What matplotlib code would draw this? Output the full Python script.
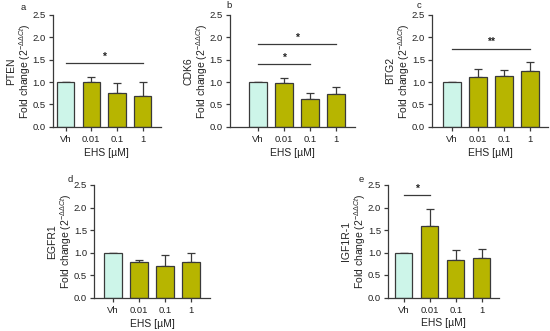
import matplotlib
matplotlib.use("Agg")
import matplotlib.pyplot as plt

plt.rcParams['font.family'] = ['Liberation Sans', 'DejaVu Sans']
plt.rcParams['mathtext.fontset'] = 'custom'
plt.rcParams['mathtext.rm'] = 'Liberation Sans'
plt.rcParams['mathtext.it'] = 'Liberation Sans:italic'

categories = ["Vh", "0.01", "0.1", "1"]
genes = ["PTEN", "CDK6", "BTG2", "EGFR1", "IGF1R-1"]
letters = ["a", "b", "c", "d", "e"]

pten_mean = [1.0, 1.01, 0.75, 0.68]
pten_sd = [0.0, 0.10, 0.23, 0.31]
cdk6_mean = [1.0, 0.97, 0.62, 0.73]
cdk6_sd = [0.0, 0.13, 0.14, 0.15]
btg2_mean = [1.0, 1.12, 1.14, 1.25]
btg2_sd = [0.0, 0.18, 0.12, 0.19]
egfr1_mean = [1.0, 0.80, 0.70, 0.79]
egfr1_sd = [0.0, 0.04, 0.25, 0.20]
igf1r_mean = [1.0, 1.60, 0.83, 0.88]
igf1r_sd = [0.0, 0.37, 0.23, 0.20]

# significance brackets: (from index, to index, height, label)
pten_sig = [(0, 3, 1.42, "*")]
cdk6_sig = [(0, 2, 1.40, "*"), (0, 3, 1.85, "*")]
btg2_sig = [(0, 3, 1.75, "**")]
egfr1_sig = []
igf1r_sig = [(0, 1, 2.27, "*")]

means = [pten_mean, cdk6_mean, btg2_mean, egfr1_mean, igf1r_mean]
sds = [pten_sd, cdk6_sd, btg2_sd, egfr1_sd, igf1r_sd]
sigs = [pten_sig, cdk6_sig, btg2_sig, egfr1_sig, igf1r_sig]

W, H = 550, 331
fig = plt.figure(figsize=(W / 100, H / 100), dpi=100)

# pixel geometry: spine_x, end_x, first bar centre, spacing, y of 0, y of 2.5
geom = [
    (52.7, 160.7, 65.5, 25.7, 126.7, 15.0),
    (229.5, 355.0, 258.0, 26.0, 126.7, 15.0),
    (432.0, 548.0, 452.0, 26.0, 126.7, 15.0),
    (94.0, 210.0, 113.0, 26.0, 297.7, 185.0),
    (388.0, 499.0, 403.7, 26.0, 297.5, 185.0),
]
letter_pos = [(23, 7), (229, 6), (419, 6), (70, 179), (361, 179)]

vh_color = "#cdf5e9"
trt_color = "#b7b500"
edge = "#3a3a3a"
txt = "#222222"
fs_tick = 6.8
fs_lab = 7.5

for i in range(5):
    sx, ex, c0, sp, y0, yt = geom[i]
    left = sx / W
    width = (ex - sx) / W
    bottom = 1 - y0 / H
    height = (y0 - yt) / H
    ax = fig.add_axes([left, bottom, width, height])
    x = list(range(len(categories)))
    colors = [vh_color] + [trt_color] * 3
    ax.bar(x, means[i], width=0.67, color=colors, edgecolor=edge, linewidth=0.9, zorder=2)
    ax.errorbar(x, means[i], yerr=[[0] * 4, sds[i]], fmt="none", ecolor=edge,
                elinewidth=0.9, capsize=3.2, capthick=0.9, zorder=1)
    ax.set_xlim((sx - c0) / sp, (ex - c0) / sp)
    ax.set_ylim(0, 2.5)
    ax.set_yticks([0, 0.5, 1.0, 1.5, 2.0, 2.5])
    ax.set_yticklabels(["0.0", "0.5", "1.0", "1.5", "2.0", "2.5"])
    ax.set_xticks(x)
    ax.set_xticklabels(categories)
    for s in ["top", "right"]:
        ax.spines[s].set_visible(False)
    for s in ["left", "bottom"]:
        ax.spines[s].set_color(edge)
        ax.spines[s].set_linewidth(0.9)
    ax.tick_params(axis="both", labelsize=fs_tick, colors=edge, width=0.9, length=3, pad=2,
                   labelcolor=txt)
    ax.tick_params(axis="x", pad=3)
    ax.set_xlabel("EHS [µM]", fontsize=fs_lab, color=txt, labelpad=2.5)

    # two-line y label placed by baseline
    yc = 1 - (y0 + yt) / 2 / H
    fig.text((sx - 24) / W, yc, r"Fold change (2$^{-\Delta\Delta Ct}$)", rotation=90,
             rotation_mode="anchor", ha="center", va="baseline", fontsize=fs_lab, color=txt)
    fig.text((sx - 38.5) / W, yc, genes[i], rotation=90,
             rotation_mode="anchor", ha="center", va="baseline", fontsize=fs_lab, color=txt)

    for (a, b, h, lab) in sigs[i]:
        ax.plot([a, b], [h, h], color=edge, lw=0.9, clip_on=False)
        ax.text((a + b) / 2, h + 0.03, lab, ha="center", va="bottom", fontsize=fs_lab,
                color=txt, fontweight="bold")
    lx, ly = letter_pos[i]
    fig.text(lx / W, 1 - ly / H, letters[i], fontsize=fs_tick, ha="center", va="center",
             color=txt)

fig.savefig("out.png", dpi=100)
